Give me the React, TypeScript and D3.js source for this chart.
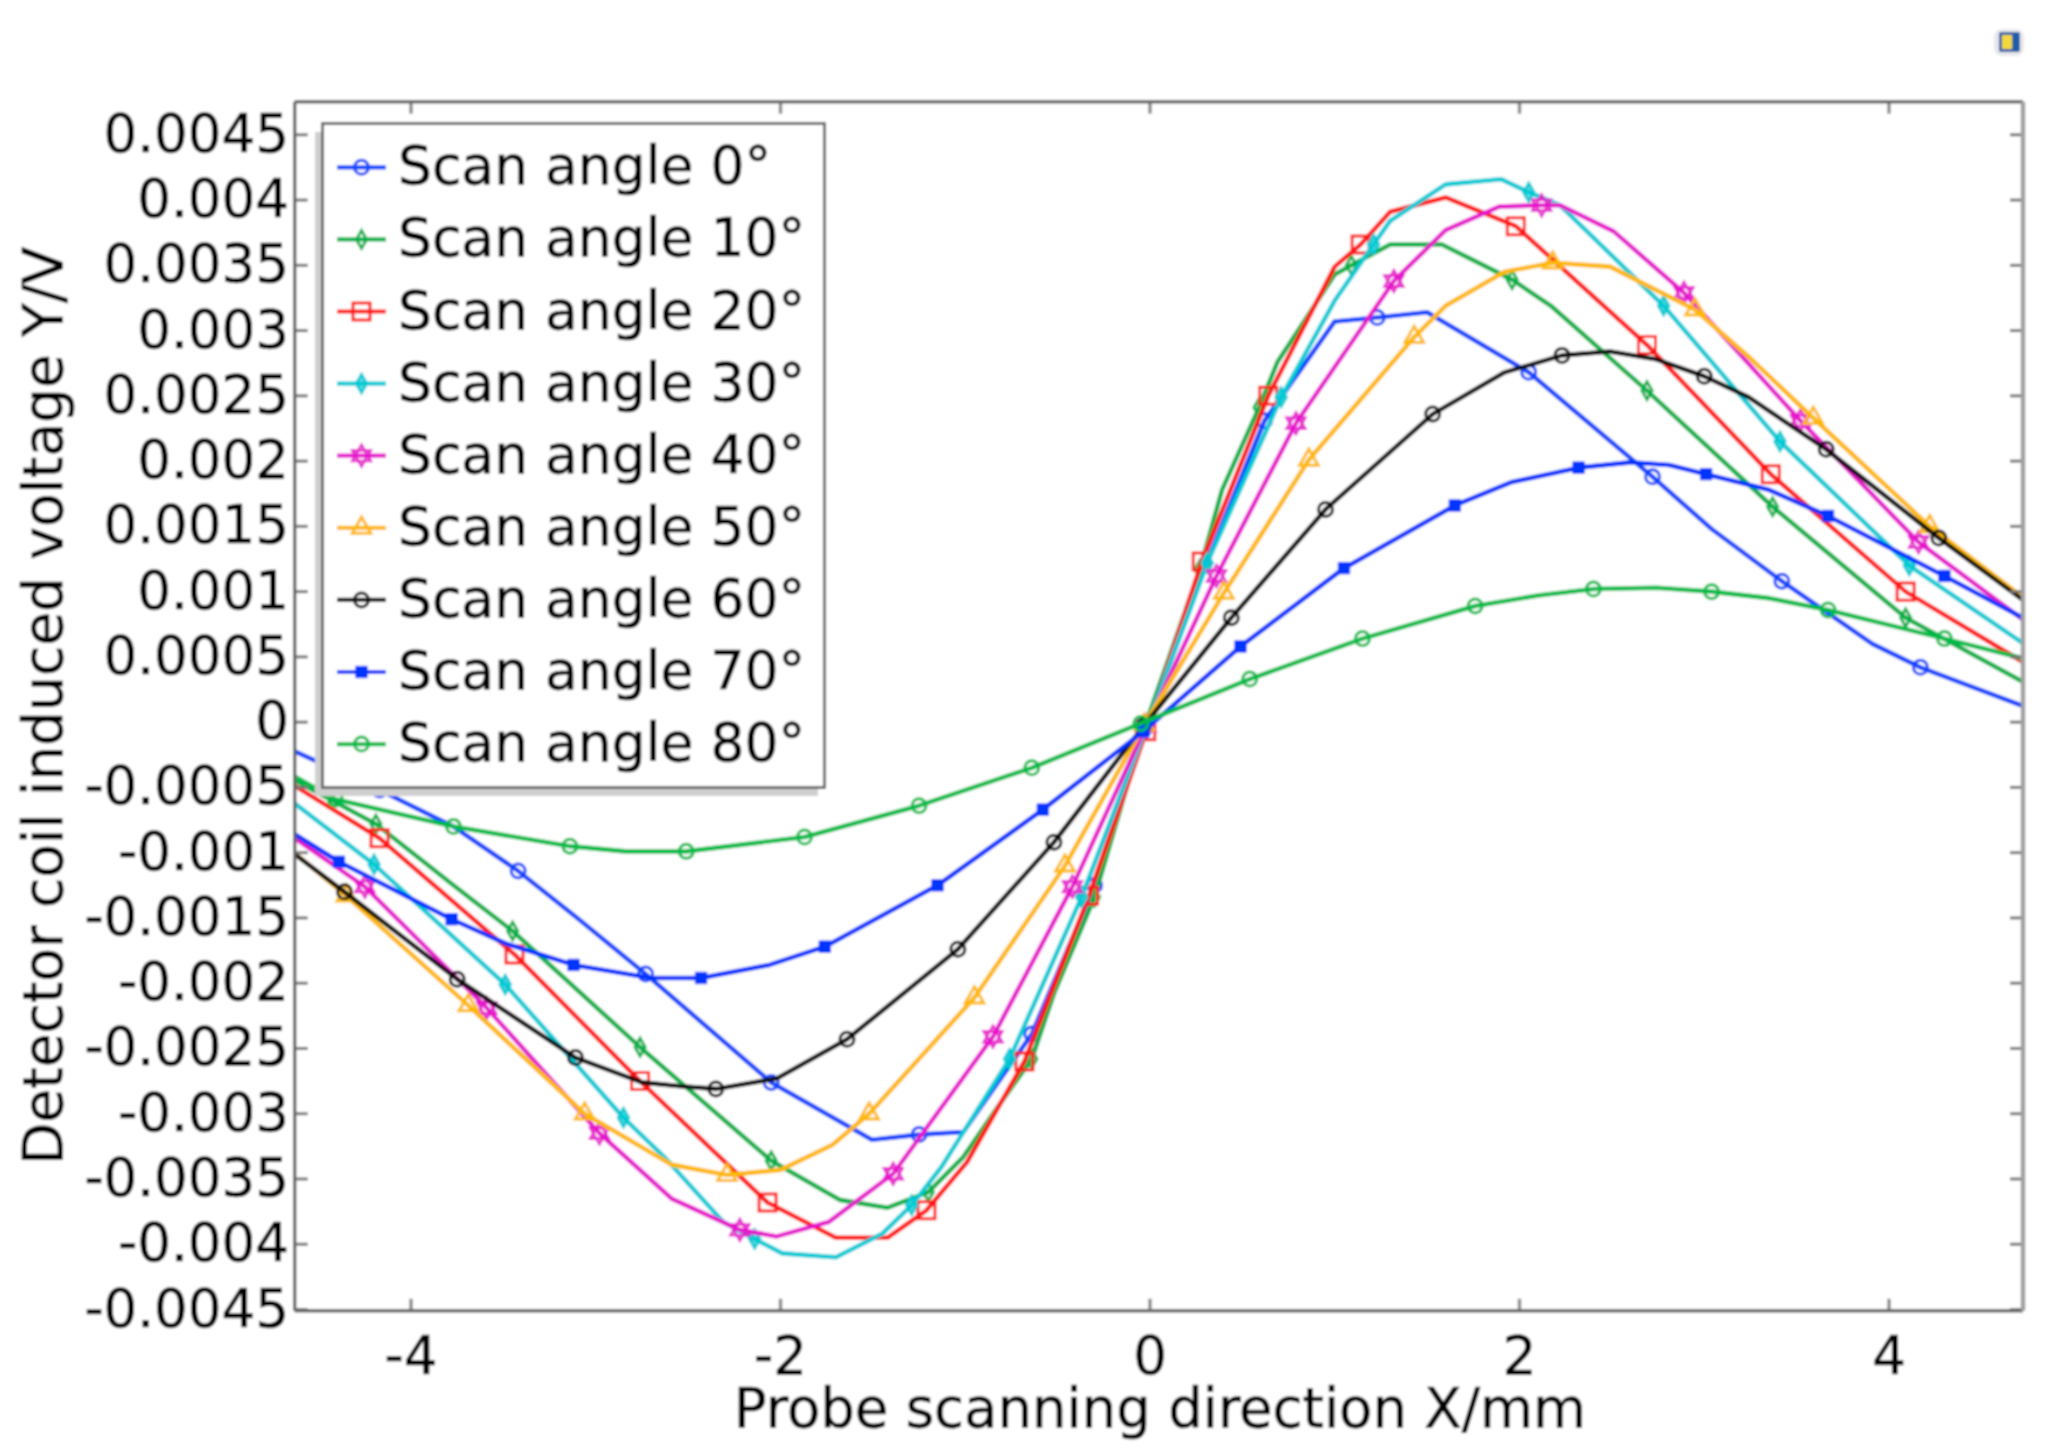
import React from "react";
import * as d3 from "d3";

type P = [number, number, number?];

// [x mm, y mV, 1 if the point carries a marker]
const scan0: P[] = [[-4.65,-.21],[-4.17,-.52,1],[-3.77,-.80],[-3.42,-1.14,1],[-3.1,-1.5],[-2.73,-1.93,1],[-2.05,-2.76,1],[-1.505,-3.20],[-1.25,-3.16,1],[-1.01,-3.14],[-.64,-2.39,1],[-.30,-1.25,1],[-.035,-.06,1],[.32,1.27],[.62,2.31,1],[1.00,3.07],[1.23,3.10,1],[1.50,3.14],[2.05,2.68,1],[2.72,1.88,1],[3.04,1.48],[3.42,1.08,1],[3.91,.60],[4.17,.42,1],[4.45,.27],[4.75,.11]];
const scan10: P[] = [[-4.65,-.43],[-4.19,-.78,1],[-3.77,-1.25],[-3.45,-1.60,1],[-2.76,-2.49,1],[-2.05,-3.36,1],[-1.68,-3.66],[-1.42,-3.72],[-1.20,-3.60,1],[-1.01,-3.33],[-.83,-2.96],[-.64,-2.58,1],[-.52,-2.08],[-.30,-1.34,1],[-.035,-.06,1],[.27,1.17,1],[.39,1.78],[.59,2.41,1],[.69,2.76],[1.00,3.43],[1.09,3.50,1],[1.30,3.66],[1.58,3.66],[1.96,3.39,1],[2.17,3.19],[2.69,2.54,1],[3.37,1.65,1],[4.09,.80,1],[4.75,.29]];
const scan20: P[] = [[-4.65,-.47],[-4.17,-.89,1],[-3.44,-1.78,1],[-2.76,-2.75,1],[-2.07,-3.68,1],[-1.70,-3.95],[-1.42,-3.95],[-1.21,-3.74,1],[-.99,-3.37],[-.68,-2.60,1],[-.33,-1.33,1],[-.02,-.07,1],[.28,1.23,1],[.64,2.50,1],[1.00,3.49],[1.14,3.66,1],[1.30,3.91],[1.60,4.02],[1.98,3.80,1],[2.69,2.89,1],[3.36,1.90,1],[4.09,1.00,1],[4.75,.44]];
const scan30: P[] = [[-4.65,-.60],[-4.20,-1.09,1],[-3.49,-2.01,1],[-2.85,-3.03,1],[-2.63,-3.33],[-2.31,-3.83],[-2.14,-3.96,1],[-1.99,-4.07],[-1.70,-4.10],[-1.45,-3.92],[-1.29,-3.70,1],[-1.13,-3.41],[-.76,-2.58,1],[-.37,-1.34,1],[-.02,-.04,1],[.31,1.22,1],[.71,2.49,1],[1.00,3.23],[1.21,3.66,1],[1.30,3.84],[1.60,4.12],[1.90,4.16],[2.05,4.06,1],[2.22,3.96],[2.78,3.19,1],[3.41,2.15,1],[4.11,1.20,1],[4.75,.58]];
const scan40: P[] = [[-4.65,-.87],[-4.25,-1.26,1],[-3.59,-2.19,1],[-2.98,-3.15,1],[-2.59,-3.65],[-2.22,-3.89,1],[-2.02,-3.94],[-1.74,-3.83],[-1.39,-3.46,1],[-.85,-2.41,1],[-.42,-1.26,1],[-.02,-.03,1],[.36,1.12,1],[.79,2.29,1],[1.32,3.38,1],[1.60,3.77],[1.89,3.95],[2.12,3.96,1],[2.22,3.96],[2.51,3.76],[2.89,3.29,1],[3.52,2.31,1],[4.16,1.38,1],[4.75,.76]];
const scan50: P[] = [[-4.65,-.98],[-4.35,-1.33,1],[-3.69,-2.17,1],[-3.06,-3.00,1],[-2.59,-3.39],[-2.29,-3.47,1],[-2.00,-3.43],[-1.72,-3.24],[-1.52,-3.00,1],[-.95,-2.11,1],[-.46,-1.10,1],[-.03,-.02,1],[.40,.99,1],[.86,2.01,1],[1.43,2.95,1],[1.60,3.19],[1.92,3.45],[2.18,3.52,1],[2.49,3.49],[2.95,3.16,1],[3.24,2.80],[3.59,2.33,1],[4.22,1.50,1],[4.75,.93]];
const scan60: P[] = [[-4.65,-.99],[-4.36,-1.30,1],[-3.75,-1.97,1],[-3.11,-2.57,1],[-2.75,-2.76],[-2.54,-2.79],[-2.35,-2.81,1],[-2.02,-2.73],[-1.64,-2.43,1],[-1.04,-1.74,1],[-.52,-.92,1],[-.035,-.03,1],[.44,.80,1],[.95,1.63,1],[1.53,2.36,1],[1.92,2.68],[2.23,2.81,1],[2.49,2.84],[2.74,2.78],[3.00,2.65,1],[3.24,2.49],[3.66,2.09,1],[4.27,1.41,1],[4.75,.91]];
const scan70: P[] = [[-4.65,-.84],[-4.39,-1.07,1],[-3.78,-1.51,1],[-3.48,-1.70],[-3.12,-1.86,1],[-2.70,-1.96],[-2.43,-1.96,1],[-2.06,-1.86],[-1.76,-1.72,1],[-1.15,-1.25,1],[-.58,-.67,1],[-.035,-.07,1],[.49,.58,1],[1.05,1.18,1],[1.65,1.66,1],[1.96,1.84],[2.32,1.95,1],[2.60,1.99],[2.81,1.97],[3.01,1.90,1],[3.35,1.78],[3.67,1.58,1],[4.30,1.12,1],[4.75,.78]];
const scan80: P[] = [[-4.65,-.40],[-4.41,-.59,1],[-3.77,-.80,1],[-3.14,-.95,1],[-2.84,-.99],[-2.51,-.99,1],[-1.87,-.88,1],[-1.25,-.64,1],[-.64,-.35,1],[-.05,-.01,1],[.54,.33,1],[1.15,.64,1],[1.76,.89,1],[2.10,.97],[2.40,1.02,1],[2.74,1.03],[3.04,1.00,1],[3.35,.95],[3.67,.86,1],[4.30,.64,1],[4.75,.48]];

const seriesData = [scan0, scan10, scan20, scan30, scan40, scan50, scan60, scan70, scan80];
const seriesNames = ["Scan angle 0°","Scan angle 10°","Scan angle 20°","Scan angle 30°","Scan angle 40°","Scan angle 50°","Scan angle 60°","Scan angle 70°","Scan angle 80°"];
const seriesColors = ["#0f46ff","#00b04a","#ff1414","#00cad4","#e614cc","#ffb800","#111111","#0034ff","#00bb4c"];
const seriesMarkers = ["circle","diamond","square","solidDiamond","star","triangle","circle","solidSquare","circle"];

const xTicks = [-4, -2, 0, 2, 4];
const yTickValues = [4.5,4,3.5,3,2.5,2,1.5,1,.5,0,-.5,-1,-1.5,-2,-2.5,-3,-3.5,-4,-4.5];
const yTickLabels = ["0.0045","0.004","0.0035","0.003","0.0025","0.002","0.0015","0.001","0.0005","0","-0.0005","-0.001","-0.0015","-0.002","-0.0025","-0.003","-0.0035","-0.004","-0.0045"];
const xTitle = "Probe scanning direction X/mm";
const yTitle = "Detector coil induced voltage Y/V";

const L = 294.7, R = 2023, T = 101.7, B = 1310.7;
const x = d3.scaleLinear().domain([-4, 4]).range([411, 1889]);
const y = d3.scaleLinear().domain([-4.5, 4.5]).range([1309.5, 134.8]);
const lineGen = d3.line<P>().x(d => x(d[0])).y(d => y(d[1])).curve(d3.curveLinear);

function Marker({ kind, cx, cy, color }: { kind: string; cx: number; cy: number; color: string }) {
  const common = { fill: "none", stroke: color, strokeWidth: 3, transform: `translate(${cx},${cy})` };
  if (kind === "circle") return <circle r={7} {...common} />;
  if (kind === "diamond") return <path d={d3.symbol(d3.symbolDiamond, 90)() ?? ""} {...common} />;
  if (kind === "solidDiamond") return <path d={d3.symbol(d3.symbolDiamond, 95)() ?? ""} {...common} fill={color} fillOpacity={0.6} />;
  if (kind === "square") return <path d={d3.symbol(d3.symbolSquare, 290)() ?? ""} {...common} />;
  if (kind === "solidSquare") return <path d={d3.symbol(d3.symbolSquare, 130)() ?? ""} {...common} fill={color} strokeWidth={1} />;
  if (kind === "triangle") return <path d={d3.symbol(d3.symbolTriangle, 150)() ?? ""} {...common} />;
  const tri = d3.symbol(d3.symbolTriangle, 150)() ?? "";
  return (
    <g {...common} strokeWidth={2.6}>
      <path d={tri} />
      <path d={tri} transform="rotate(180)" />
    </g>
  );
}

const FONT = "'DejaVu Sans'";
const TEXT = { fill: "#000", stroke: "#000", strokeWidth: 0.7 };

export default function App() {
  const legendRows = seriesNames.map((_, i) => 167.3 + i * 72.1);
  return (
    <svg width={2052} height={1455} style={{ position: "absolute", left: 0, top: 0, display: "block", background: "#fff" }} fontFamily={FONT}>
      <defs>
        <filter id="soft" x="0" y="0" width="2052" height="1455" filterUnits="userSpaceOnUse">
          <feGaussianBlur stdDeviation="0.85" />
        </filter>
        <clipPath id="plot"><rect x={L} y={T} width={R - L} height={B - T} /></clipPath>
      </defs>
      <g filter="url(#soft)">
        <rect width={2052} height={1455} fill="#fff" />
        {/* corner icon */}
        <rect x={1994} y={29} width={30} height={27} rx={8} fill="#e8e8ec" />
        <rect x={1999} y={32} width={21} height={20} rx={2} fill="#1a5fa8" />
        <rect x={2002} y={35} width={10} height={14} fill="#f2d83c" />

        {/* plot */}
        <g clipPath="url(#plot)">
          {seriesData.map((s, i) => (
            <g key={i}>
              <path d={lineGen(s) ?? ""} fill="none" stroke={seriesColors[i]} strokeWidth={4.6} strokeLinejoin="round" />
              {s.filter(p => p[2]).map((p, j) => (
                <Marker key={j} kind={seriesMarkers[i]} cx={x(p[0])} cy={y(p[1])} color={seriesColors[i]} />
              ))}
            </g>
          ))}
        </g>

        {xTicks.map(t => (
          <g key={t} stroke="#8c8c8c" strokeWidth={3.5}>
            <line x1={x(t)} x2={x(t)} y1={B} y2={B - 12} />
            <line x1={x(t)} x2={x(t)} y1={T} y2={T + 12} />
          </g>
        ))}
        {yTickValues.map(t => (
          <g key={t} stroke="#777" strokeWidth={3}>
            <line x1={L} x2={L + 13} y1={y(t)} y2={y(t)} />
            <line x1={R - 13} x2={R} y1={y(t)} y2={y(t)} />
          </g>
        ))}
        <path d={`M${L},${T}H${R}M${L},${T}V${B}M${L},${B}H${R}`} stroke="#666" strokeWidth={3.4} fill="none" />
        <line x1={R} x2={R} y1={T} y2={B} stroke="#a0a0a0" strokeWidth={4.5} />

        {/* tick labels */}
        {yTickValues.map((t, i) => (
          <text key={t} x={289} y={y(t) + 17} textAnchor="end" fontSize={53} {...TEXT}>{yTickLabels[i]}</text>
        ))}
        {xTicks.map(t => (
          <text key={t} x={x(t)} y={1374} textAnchor="middle" fontSize={53} {...TEXT}>{t}</text>
        ))}
        <text x={1160} y={1427} textAnchor="middle" fontSize={54.5} {...TEXT}>{xTitle}</text>
        <text transform="translate(62,706) rotate(-90)" textAnchor="middle" fontSize={55} {...TEXT}>{yTitle}</text>

        {/* legend */}
        <rect x={315} y={132} width={503} height={664} fill="#cfcfcf" />
        <rect x={322.5} y={123.5} width={502} height={664} fill="#fff" stroke="#666" strokeWidth={3} />
        {seriesNames.map((n, i) => (
          <g key={n}>
            <line x1={337} x2={386} y1={legendRows[i]} y2={legendRows[i]} stroke={seriesColors[i]} strokeWidth={4.2} />
            <Marker kind={seriesMarkers[i]} cx={361.5} cy={legendRows[i]} color={seriesColors[i]} />
            <text x={398} y={legendRows[i] + 17} fontSize={53.5} {...TEXT}>{n}</text>
          </g>
        ))}
      </g>
    </svg>
  );
}
